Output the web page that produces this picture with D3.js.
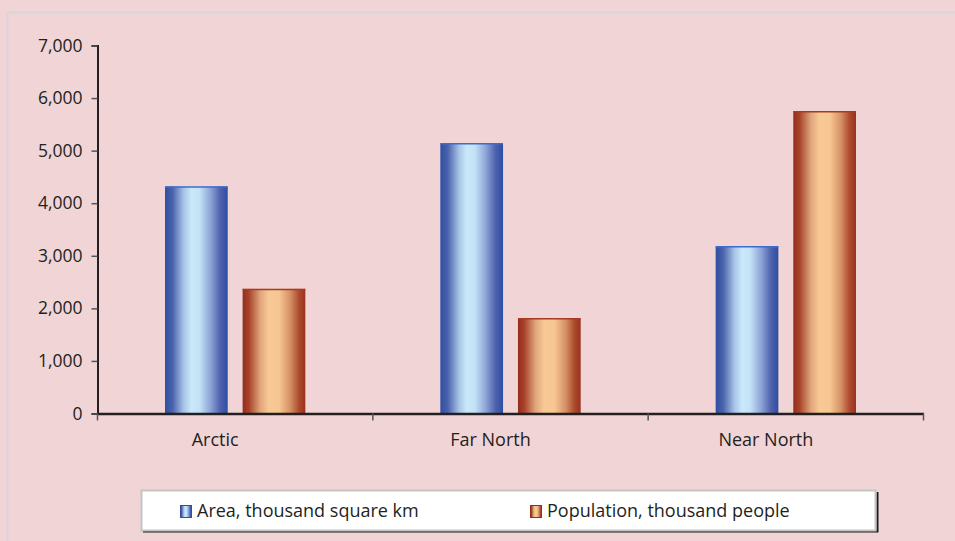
<!DOCTYPE html>
<html>
<head>
<meta charset="utf-8">
<script src="https://cdn.jsdelivr.net/npm/d3@7"></script>
<style>
  html, body { margin: 0; padding: 0; background: #f0d4d6; }
  svg { display: block; }
  text { font-family: "Open Sans", Lato, sans-serif; fill: #231f20; }
</style>
</head>
<body>
<svg id="chart" width="955" height="541"></svg>
<script>
// Regions and their values
const categories = ["Arctic", "Far North", "Near North"];
const seriesNames = ["Area, thousand square km", "Population, thousand people"];
const area = [4320, 5140, 3180];
const population = [2370, 1810, 5750];
const yTicks = [0, 1000, 2000, 3000, 4000, 5000, 6000, 7000];

const W = 955, H = 541;
const FONT = "'Open Sans', Lato, sans-serif";
const svg = d3.select("#chart");

// panel frame
svg.append("rect").attr("x", 0).attr("y", 0).attr("width", W).attr("height", H).attr("fill", "#f0d4d6");
svg.append("path")
  .attr("d", `M7.5,${H} V12.5 H${W}`)
  .attr("fill", "none").attr("stroke", "#d9d6d9").attr("stroke-width", 2);

const plot = { left: 97.5, right: 923.5, top: 45.5, bottom: 413.5 };

const y = d3.scaleLinear().domain([0, 7000]).range([plot.bottom, plot.top]);
const x0 = d3.scaleBand().domain(categories).range([plot.left, plot.right]).paddingInner(0).paddingOuter(0);
const seriesKeys = [0, 1];
// two bars per region, 63px wide with a 15px gap, centred in the band
const x1 = d3.scaleBand().domain(seriesKeys).range([67.5, x0.bandwidth() - 67.5]).paddingInner(15 / 78).paddingOuter(0);

// gradients
const defs = svg.append("defs");
function grad(id, stops) {
  const g = defs.append("linearGradient").attr("id", id).attr("x1", "0%").attr("x2", "100%").attr("y1", "0%").attr("y2", "0%");
  stops.forEach(s => g.append("stop").attr("offset", s[0]).attr("stop-color", s[1]));
}
grad("gBlue", [["0%", "#2f4fa0"], ["12%", "#4a63ad"], ["30%", "#a8c4e6"], ["42%", "#c9e8f9"], ["55%", "#c4e2f6"], ["72%", "#8fa6d8"], ["88%", "#4f62ad"], ["100%", "#2c4ea3"]]);
grad("gOrange", [["0%", "#952c1c"], ["10%", "#a8432a"], ["28%", "#e0a57c"], ["42%", "#f9c995"], ["58%", "#f7c792"], ["76%", "#d59066"], ["90%", "#ac4a2c"], ["100%", "#9a311d"]]);

const fills = ["url(#gBlue)", "url(#gOrange)"];
const topLines = ["#3f6ccc", "#a63a22"];
const values = [area, population];

// bars
const groups = svg.append("g").selectAll("g").data(categories).join("g")
  .attr("transform", d => `translate(${x0(d)},0)`);

groups.each(function (cat, ci) {
  const g = d3.select(this);
  seriesKeys.forEach(si => {
    const v = values[si][ci];
    g.append("rect")
      .attr("x", x1(si)).attr("y", y(v))
      .attr("width", x1.bandwidth()).attr("height", y(0) - y(v))
      .attr("fill", fills[si]);
    g.append("line")
      .attr("x1", x1(si)).attr("x2", x1(si) + x1.bandwidth())
      .attr("y1", y(v) + 0.5).attr("y2", y(v) + 0.5)
      .attr("stroke", topLines[si]).attr("stroke-width", 1.5);
  });
});

// y axis
const yAxis = d3.axisLeft(y).tickValues(yTicks).tickFormat(d3.format(",")).tickSize(6).tickPadding(9);
const yg = svg.append("g").attr("transform", `translate(${plot.left},0)`).call(yAxis);
yg.select(".domain").attr("stroke", "#231f20").attr("stroke-width", 2);
yg.selectAll(".tick line").attr("stroke", "#555").attr("stroke-width", 1.5);
yg.selectAll(".tick text").attr("font-size", 17.5).attr("font-family", FONT).attr("fill", "#231f20");

// x axis
const xAxis = d3.axisBottom(x0).tickSize(0).tickPadding(20);
const xg = svg.append("g").attr("transform", `translate(0,${plot.bottom})`).call(xAxis);
xg.select(".domain").attr("stroke", "#231f20").attr("stroke-width", 2.5);
xg.selectAll(".tick text").attr("font-size", 18).attr("font-family", FONT).attr("fill", "#231f20")
  .attr("dx", -20);
// category boundary ticks
const bounds = categories.map(c => x0(c) + x0.bandwidth());
xg.append("g").selectAll("line").data(bounds).join("line")
  .attr("x1", d => d).attr("x2", d => d).attr("y1", 0).attr("y2", 7)
  .attr("stroke", "#555").attr("stroke-width", 1.5);
xg.append("line").attr("x1", plot.left).attr("x2", plot.left).attr("y1", 0).attr("y2", 7)
  .attr("stroke", "#555").attr("stroke-width", 1.5);

// legend
const lg = svg.append("g");
lg.append("path").attr("d", "M143,531.5 H877.5 V492").attr("fill", "none").attr("stroke", "#1a1a1a").attr("stroke-width", 2);
lg.append("rect").attr("x", 141.5).attr("y", 490.5).attr("width", 734).attr("height", 40)
  .attr("fill", "#ffffff").attr("stroke", "#c4c4c4").attr("stroke-width", 2);
const legendX = [180, 530];
seriesNames.forEach((name, i) => {
  lg.append("rect").attr("x", legendX[i] + 0.5).attr("y", 505.5).attr("width", 11).attr("height", 12)
    .attr("fill", fills[i]).attr("stroke", i === 0 ? "#2f4fa0" : "#952c1c").attr("stroke-width", 1);
  lg.append("text").attr("x", legendX[i] + 17).attr("y", 517).attr("font-size", 18)
    .attr("font-family", FONT).text(name);
});
</script>
</body>
</html>
